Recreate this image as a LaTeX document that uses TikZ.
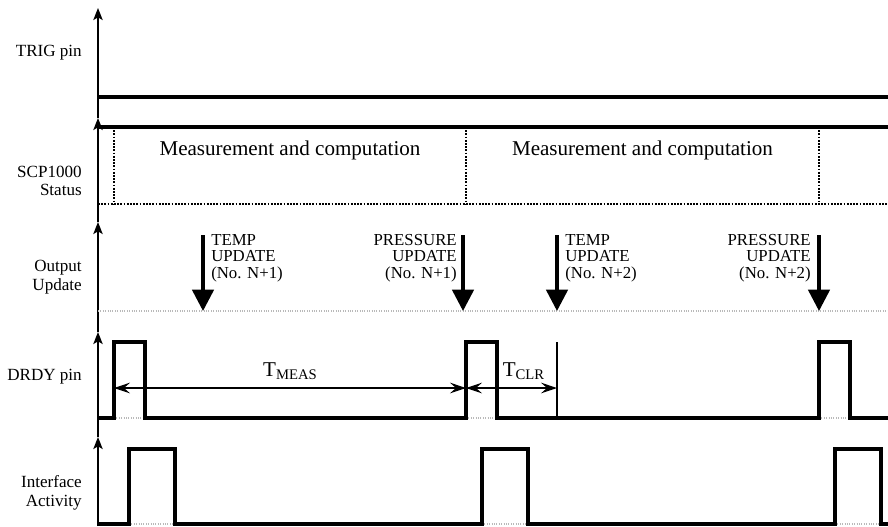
\documentclass[tikz,border=0pt]{standalone}
\usepackage{fontspec}
\setmainfont{Liberation Serif}
\usepackage{tikz}
\usetikzlibrary{arrows.meta,positioning,calc}
\tikzset{
  >={Stealth[length=2mm]},
  taxis/.style={black, line width=1.3pt, -{Stealth[length=9pt,width=7pt,inset=2pt]}},
  tsig/.style={black, line width=2.6pt, line join=miter},
  tidle/.style={gray!55, densely dotted, line width=0.8pt},
  tstat/.style={black, densely dotted, line width=1.4pt},
  tupd/.style={black, line width=2.6pt, -{Triangle[length=16pt,width=16pt]}},
  tdim/.style={black, line width=0.9pt,
               {Stealth[length=12pt,width=8pt,inset=4.5pt]}-{Stealth[length=12pt,width=8pt,inset=4.5pt]}},
  tlbl/.style={font=\fontsize{12.8}{14}\selectfont, align=right, anchor=east, inner sep=0pt},
  tnote/.style={font=\fontsize{12.6}{12.3}\selectfont, inner sep=0pt},
  tbig/.style={font=\fontsize{15.8}{18}\selectfont, inner sep=0pt},
}
\newcommand{\tsub}[2]{#1\raisebox{-0.3ex}{\fontsize{11}{12}\selectfont #2}}

\begin{document}
\begin{tikzpicture}[x=0.75pt, y=-0.75pt]
  \useasboundingbox (0,0) rectangle (888,526);

  % axes, one per signal band
  \draw[taxis] (98,118) -- (98,8);
  \draw[taxis] (98,222) -- (98,118);
  \draw[taxis] (98,332) -- (98,222);
  \draw[taxis] (98,437) -- (98,332);
  \draw[taxis] (98,526) -- (98,437);

  % band labels
  \node[tlbl] (ltrig) at (82,53) {TRIG pin};
  \node[tlbl] (lstat) at (82,181) {SCP1000\\Status};
  \node[tlbl] (lout)  at (82,277) {Output\\Update};
  \node[tlbl] (ldrdy) at (82,377) {DRDY pin};
  \node[tlbl] (lif)   at (82,493) {Interface\\Activity};

  % TRIG pin
  \draw[tsig] (98,97) -- (888,97);

  % SCP1000 status
  \coordinate (s0) at (114,127);
  \coordinate (s1) at (466,127);
  \coordinate (s2) at (819,127);
  \draw[tsig] (98,127) -- (888,127);
  \draw[tstat] (98,204) -- (888,204);
  \draw[tstat] (s0) -- (s0 |- 0,204);
  \draw[tstat] (s1) -- (s1 |- 0,204);
  \draw[tstat] (s2) -- (s2 |- 0,204);
  \node[tbig] (meas1) at ($(s0)!0.5!(s1)+(0,23)$) {Measurement and computation};
  \node[tbig] (meas2) at ($(s1)!0.5!(s2)+(0,23)$) {Measurement and computation};

  % output update
  \draw[tidle] (98,311) -- (888,311);
  \coordinate (u1) at (203,235); \coordinate (v1) at (203,311);
  \coordinate (u2) at (463,235); \coordinate (v2) at (463,311);
  \coordinate (u3) at (557,235); \coordinate (v3) at (557,311);
  \coordinate (u4) at (819,235); \coordinate (v4) at (819,311);
  \draw[tupd] (u1) -- (v1);
  \draw[tupd] (u2) -- (v2);
  \draw[tupd] (u3) -- (v3);
  \draw[tupd] (u4) -- (v4);
  \node[tnote, align=left, anchor=north west] (n1) at ($(u1)+(8,-1)$) {TEMP\\UPDATE\\(No. N+1)};
  \node[tnote, align=right, anchor=north east] (n2) at ($(u2)+(-6,-1)$) {PRESSURE\\UPDATE\\(No. N+1)};
  \node[tnote, align=left, anchor=north west] (n3) at ($(u3)+(8,-1)$) {TEMP\\UPDATE\\(No. N+2)};
  \node[tnote, align=right, anchor=north east] (n4) at ($(u4)+(-8,-1)$) {PRESSURE\\UPDATE\\(No. N+2)};

  % DRDY pin
  \draw[tidle] (114,418) -- (145,418);
  \draw[tidle] (466,418) -- (497,418);
  \draw[tidle] (819,418) -- (850,418);
  \draw[tsig] (98,418) -- (114,418) -- (114,342) -- (145,342) -- (145,418)
    -- (466,418) -- (466,342) -- (497,342) -- (497,418)
    -- (819,418) -- (819,342) -- (850,342) -- (850,418) -- (888,418);

  % timing marks
  \coordinate (m0) at (114,388);
  \coordinate (m1) at (466,388);
  \coordinate (m2) at (557,388);
  \draw[black, line width=0.9pt] (557,342) -- (557,418);
  \draw[tdim] (m0) -- (m1);
  \draw[tdim] (m1) -- (m2);
  \node[tbig] (tmeas) at ($(m0)!0.5!(m1)+(0,-17)$) {\tsub{T}{MEAS}};
  \node[tbig] (tclr)  at ($(m1)!0.5!(m2)+(12,-17)$) {\tsub{T}{CLR}};

  % interface activity
  \draw[tidle] (129,524) -- (175,524);
  \draw[tidle] (482,524) -- (528,524);
  \draw[tidle] (835,524) -- (881,524);
  \draw[tsig] (98,524) -- (129,524) -- (129,449) -- (175,449) -- (175,524)
    -- (482,524) -- (482,449) -- (528,449) -- (528,524)
    -- (835,524) -- (835,449) -- (881,449) -- (881,524) -- (888,524);

\end{tikzpicture}
\end{document}
